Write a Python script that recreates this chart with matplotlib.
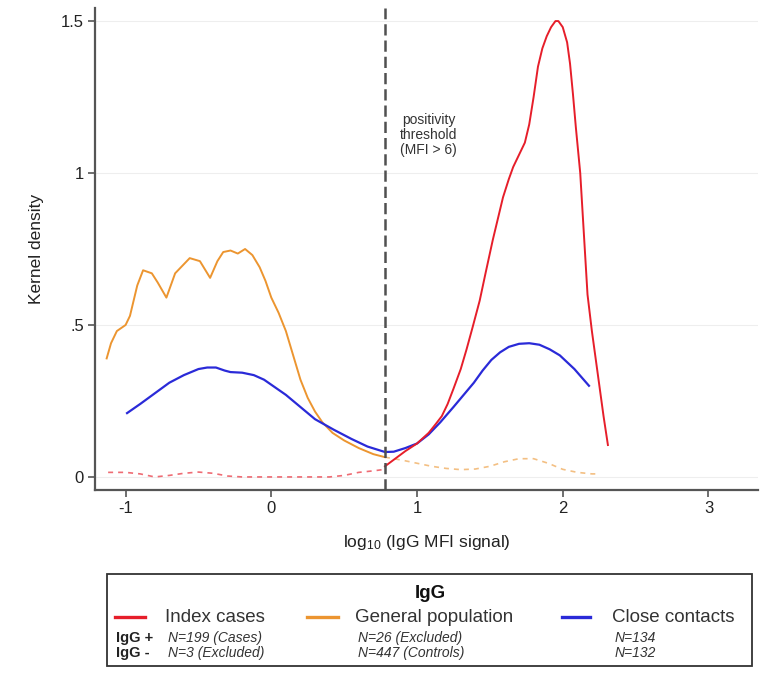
import matplotlib
matplotlib.use("Agg")
import matplotlib.pyplot as plt
from matplotlib.patches import Rectangle
from matplotlib.lines import Line2D

plt.rcParams['font.family'] = ['Liberation Sans', 'DejaVu Sans']
plt.rcParams['mathtext.fontset'] = 'custom'
plt.rcParams['mathtext.rm'] = 'Liberation Sans'
plt.rcParams['mathtext.it'] = 'Liberation Sans:italic'

# ---------------- data ----------------
threshold = 0.778  # log10(6)

index_pos_x = [0.78, 0.85, 0.92, 1.0, 1.08, 1.13, 1.17, 1.21, 1.25, 1.30, 1.34, 1.38, 1.43,
               1.47, 1.52, 1.56, 1.59, 1.63, 1.66, 1.70, 1.74, 1.77, 1.80, 1.83, 1.86, 1.89,
               1.92, 1.95, 1.97, 2.0, 2.03, 2.05, 2.07, 2.09, 2.12, 2.145, 2.17, 2.20, 2.24,
               2.28, 2.31]
index_pos_y = [0.035, 0.06, 0.085, 0.11, 0.145, 0.175, 0.20, 0.24, 0.29, 0.355, 0.42, 0.49, 0.58,
               0.67, 0.78, 0.86, 0.92, 0.98, 1.02, 1.06, 1.10, 1.16, 1.25, 1.35, 1.41, 1.45,
               1.48, 1.50, 1.50, 1.48, 1.43, 1.36, 1.26, 1.15, 1.0, 0.80, 0.60, 0.48, 0.34,
               0.20, 0.105]

index_neg_x = [-1.12, -1.0, -0.9, -0.8, -0.7, -0.6, -0.5, -0.4, -0.3, -0.2, -0.1, 0.0, 0.1,
               0.2, 0.3, 0.4, 0.5, 0.6, 0.7, 0.78]
index_neg_y = [0.015, 0.015, 0.01, 0.0, 0.005, 0.012, 0.016, 0.012, 0.003, 0.0, 0.0, 0.0, 0.0,
               0.0, 0.0, 0.0, 0.005, 0.015, 0.02, 0.025]

genpop_neg_x = [-1.13, -1.10, -1.06, -1.0, -0.97, -0.92, -0.88, -0.82, -0.78, -0.72, -0.66,
                -0.62, -0.56, -0.49, -0.42, -0.37, -0.33, -0.28, -0.23, -0.18, -0.13, -0.08,
                -0.04, 0.0, 0.05, 0.1, 0.15, 0.2, 0.25, 0.3, 0.35, 0.42, 0.5, 0.6, 0.7, 0.78]
genpop_neg_y = [0.39, 0.44, 0.48, 0.50, 0.53, 0.63, 0.68, 0.67, 0.64, 0.59, 0.67,
                0.69, 0.72, 0.71, 0.655, 0.71, 0.74, 0.745, 0.735, 0.75, 0.73, 0.69,
                0.645, 0.59, 0.54, 0.48, 0.40, 0.32, 0.26, 0.215, 0.18, 0.145, 0.12, 0.095,
                0.075, 0.065]

genpop_pos_x = [0.78, 0.9, 1.0, 1.1, 1.2, 1.3, 1.4, 1.5, 1.6, 1.7, 1.8, 1.9, 2.0, 2.1, 2.2, 2.25]
genpop_pos_y = [0.065, 0.055, 0.045, 0.035, 0.028, 0.024, 0.026, 0.035, 0.05, 0.06, 0.06,
                0.045, 0.025, 0.015, 0.01, 0.01]

contacts_x = [-0.99, -0.9, -0.8, -0.7, -0.6, -0.5, -0.44, -0.38, -0.32, -0.28, -0.2, -0.12,
              -0.05, 0.01, 0.1, 0.2, 0.3, 0.43, 0.55, 0.66, 0.78, 0.84, 0.92, 1.0, 1.08, 1.16,
              1.25, 1.32, 1.39, 1.45, 1.51, 1.57, 1.63, 1.70, 1.77, 1.84, 1.91, 1.98, 2.08, 2.18]
contacts_y = [0.21, 0.24, 0.275, 0.31, 0.335, 0.355, 0.36, 0.36, 0.35, 0.345, 0.343, 0.335,
              0.32, 0.30, 0.27, 0.23, 0.19, 0.155, 0.125, 0.10, 0.082, 0.083, 0.095, 0.11, 0.14,
              0.18, 0.23, 0.27, 0.31, 0.35, 0.385, 0.41, 0.428, 0.438, 0.44, 0.435, 0.42, 0.40,
              0.355, 0.30]

x_ticks = [-1, 0, 1, 2, 3]
y_ticks = [0, 0.5, 1, 1.5]
y_tick_labels = ['0', '.5', '1', '1.5']

groups = ['Index cases', 'General population', 'Close contacts']
n_pos = ['N=199 (Cases)', 'N=26 (Excluded)', 'N=134']
n_neg = ['N=3 (Excluded)', 'N=447 (Controls)', 'N=132']

RED = '#e61e2a'
ORANGE = '#ec9530'
BLUE = '#2a2ad8'
SPINE = '#555555'

# ---------------- figure ----------------
W, H = 768, 678
fig = plt.figure(figsize=(W / 100, H / 100), dpi=100)
ax = fig.add_axes([95 / W, 1 - 490 / H, (758 - 95) / W, (490 - 8) / H])

for yv in y_ticks:
    ax.axhline(yv, color='#eeeeee', lw=0.8, zorder=0)

ax.plot(index_neg_x, index_neg_y, color=RED, lw=1.2, alpha=0.65, dashes=(3, 3), zorder=2)
ax.plot(genpop_pos_x, genpop_pos_y, color=ORANGE, lw=1.2, alpha=0.6, dashes=(3, 3), zorder=2)
ax.plot(genpop_neg_x, genpop_neg_y, color=ORANGE, lw=1.4, zorder=3)
ax.plot(contacts_x, contacts_y, color=BLUE, lw=1.6, zorder=4)
ax.plot(index_pos_x, index_pos_y, color=RED, lw=1.4, zorder=5)

ax.axvline(threshold, color='#505050', lw=1.8, dashes=(4.5, 2.0), zorder=6)
ax.text(1.08, 1.125, 'positivity\nthreshold\n(MFI > 6)', ha='center', va='center',
        fontsize=10, color='#333333', linespacing=1.05)

ax.set_xlim(-1.21, 3.34)
ax.set_ylim(-0.043, 1.543)
ax.set_xticks(x_ticks)
ax.set_xticklabels([str(t) for t in x_ticks])
ax.set_yticks(y_ticks)
ax.set_yticklabels(y_tick_labels)
ax.tick_params(axis='both', direction='out', length=5, width=1.2, color=SPINE,
               labelsize=12, labelcolor='#222222', pad=3)
for s in ['top', 'right']:
    ax.spines[s].set_visible(False)
for s in ['left', 'bottom']:
    ax.spines[s].set_color(SPINE)
    ax.spines[s].set_linewidth(1.6)

ax.set_xlabel(r'log$_{10}$ (IgG MFI signal)', fontsize=12.5, color='#222222', labelpad=12)
ax.set_ylabel('Kernel density', fontsize=12.5, color='#222222', labelpad=12)

# ---------------- legend (manual) ----------------
def fx(px):
    return px / W

def fy(py):
    return 1 - py / H

fig.patches.append(Rectangle((fx(107), fy(666)), fx(752) - fx(107), fy(574) - fy(666),
                             transform=fig.transFigure, fill=False, edgecolor='#333333',
                             lw=1.3))
fig.text(fx(430), fy(593), 'IgG', ha='center', va='center', fontsize=13.5,
         fontweight='bold', color='#111111')

colors = [RED, ORANGE, BLUE]
line_x = [(115, 145), (307, 338), (562, 590)]
text_x = [165, 355, 612]
for g, c, (l0, l1), tx, np_, nn in zip(groups, colors, line_x, text_x, n_pos, n_neg):
    fig.lines.append(Line2D([fx(l0), fx(l1)], [fy(617), fy(617)], transform=fig.transFigure,
                            color=c, lw=2.4))
    fig.text(fx(tx), fy(618), g, ha='left', va='center', fontsize=13.5, color='#333333')
    fig.text(fx(tx + 3), fy(638), np_, ha='left', va='center', fontsize=10,
             style='italic', color='#333333')
    fig.text(fx(tx + 3), fy(653), nn, ha='left', va='center', fontsize=10,
             style='italic', color='#333333')

fig.text(fx(116), fy(638), 'IgG +', ha='left', va='center', fontsize=10.5,
         fontweight='bold', color='#222222')
fig.text(fx(116), fy(653), 'IgG -', ha='left', va='center', fontsize=10.5,
         fontweight='bold', color='#222222')

fig.savefig('out.png', dpi=100, facecolor='white')
